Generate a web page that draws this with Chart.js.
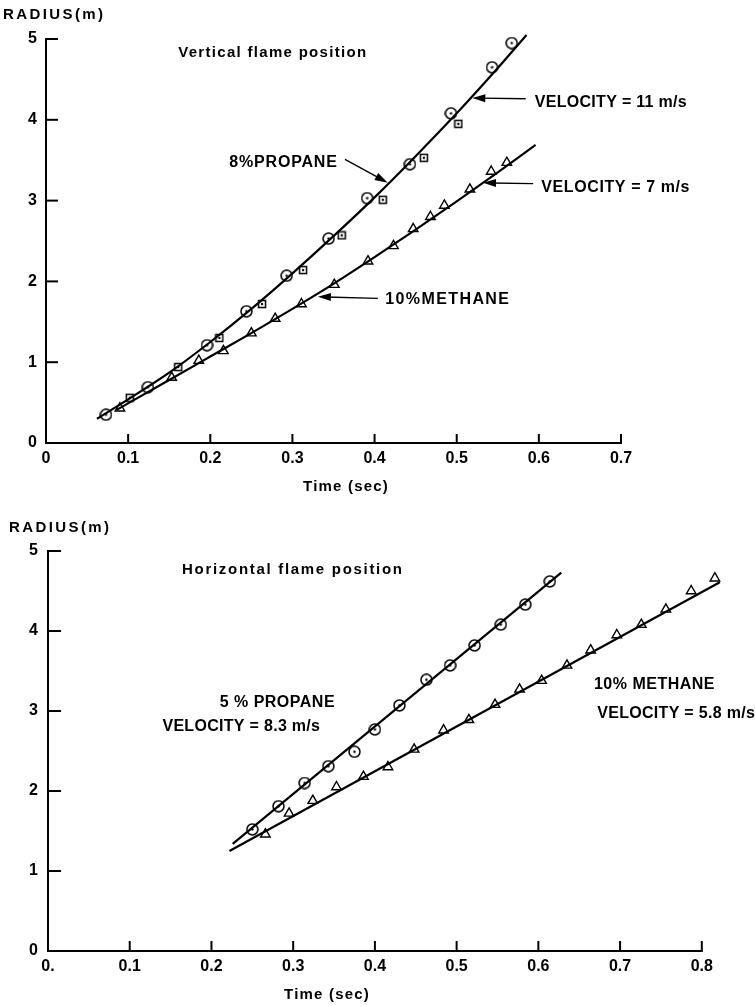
<!DOCTYPE html>
<html>
<head>
<meta charset="utf-8">
<script src="https://cdn.jsdelivr.net/npm/chart.js@4.4.1/dist/chart.umd.min.js"></script>
<style>
  body { margin: 0; background: #fff; }
  .box { position: absolute; left: 0; }
</style>
</head>
<body>
<div class="box" style="top:0"><canvas id="vertChart" width="755" height="500"></canvas></div>
<div class="box" style="top:500px"><canvas id="horzChart" width="755" height="506"></canvas></div>
<script>
// ---- vertical flame position (top) ----
const vPropaneCircT = [0.073, 0.124, 0.196, 0.244, 0.293, 0.344, 0.391, 0.443, 0.493, 0.543, 0.567];
const vPropaneCircR = [0.35, 0.69, 1.21, 1.63, 2.07, 2.53, 3.03, 3.45, 4.08, 4.65, 4.95];
const vPropaneSqT = [0.102, 0.161, 0.211, 0.263, 0.313, 0.360, 0.410, 0.460, 0.502];
const vPropaneSqR = [0.56, 0.94, 1.30, 1.72, 2.14, 2.57, 3.01, 3.53, 3.95];
const vMethaneT = [0.090, 0.153, 0.186, 0.216, 0.250, 0.279, 0.311, 0.351, 0.392, 0.423, 0.447, 0.468, 0.485, 0.516, 0.542, 0.561];
const vMethaneR = [0.43, 0.81, 1.02, 1.14, 1.36, 1.54, 1.72, 1.96, 2.25, 2.44, 2.65, 2.80, 2.94, 3.14, 3.36, 3.47];
// fitted curves as drawn on the figure
const vPropaneFitT = [0.062, 0.10, 0.15, 0.20, 0.25, 0.30, 0.35, 0.40, 0.45, 0.50, 0.55, 0.585];
const vPropaneFitR = [0.30, 0.54, 0.87, 1.25, 1.66, 2.10, 2.56, 3.04, 3.55, 4.08, 4.64, 5.05];
const vMethaneFitT = [0.086, 0.15, 0.20, 0.25, 0.30, 0.35, 0.40, 0.45, 0.50, 0.55, 0.596];
const vMethaneFitR = [0.41, 0.78, 1.07, 1.36, 1.66, 1.97, 2.30, 2.64, 2.99, 3.35, 3.69];
const vTimeTicks = [0, 0.1, 0.2, 0.3, 0.4, 0.5, 0.6, 0.7];

// ---- horizontal flame position (bottom) ----
const hPropaneT = [0.250, 0.282, 0.314, 0.343, 0.375, 0.400, 0.430, 0.463, 0.492, 0.522, 0.554, 0.584, 0.614];
const hPropaneR = [1.52, 1.81, 2.10, 2.31, 2.49, 2.77, 3.07, 3.39, 3.57, 3.82, 4.08, 4.33, 4.62];
const hMethaneT = [0.266, 0.295, 0.324, 0.353, 0.386, 0.416, 0.448, 0.484, 0.515, 0.547, 0.577, 0.604, 0.635, 0.664, 0.696, 0.726, 0.756, 0.787, 0.816];
const hMethaneR = [1.46, 1.72, 1.88, 2.05, 2.18, 2.30, 2.52, 2.76, 2.89, 3.08, 3.27, 3.38, 3.57, 3.76, 3.95, 4.08, 4.27, 4.50, 4.66];
const hPropaneFitT = [0.226, 0.628];
const hPropaneFitR = [1.34, 4.73];
const hMethaneFitT = [0.222, 0.822];
const hMethaneFitR = [1.25, 4.61];
const hTimeTicks = [0, 0.1, 0.2, 0.3, 0.4, 0.5, 0.6, 0.7, 0.8];

const radiusTicks = [0, 1, 2, 3, 4, 5];

const FONT = 'Liberation Sans';

function zip(xs, ys) {
  return xs.map((x, i) => ({ x: x, y: ys[i] }));
}

// marker images: circle with centre dot, square with centre dot
function markerImg(kind, size) {
  const c = document.createElement('canvas');
  c.width = c.height = size;
  const g = c.getContext('2d');
  const m = size / 2;
  g.strokeStyle = '#000';
  g.lineWidth = 1.5;
  g.beginPath();
  if (kind === 'circle') g.arc(m, m, m - 1, 0, Math.PI * 2);
  else g.rect(1.5, 1.5, size - 3, size - 3);
  g.stroke();
  g.fillStyle = '#000';
  g.beginPath();
  g.arc(m, m, 1.2, 0, Math.PI * 2);
  g.fill();
  return c;
}

function curve(xs, ys) {
  return {
    data: zip(xs, ys), showLine: true, pointRadius: 0, borderColor: '#000',
    borderWidth: 2.2, cubicInterpolationMode: 'monotone', clip: false
  };
}
function markers(xs, ys, style, r) {
  return {
    data: zip(xs, ys), showLine: false, pointStyle: style, pointRadius: r,
    borderColor: '#000', backgroundColor: 'rgba(255,255,255,0)', borderWidth: 1.4, clip: false
  };
}

// axis line, inward ticks, annotation text and arrows
function makeInk(notes) {
  return {
    id: 'ink',
    afterDraw(chart) {
      const ctx = chart.ctx, a = chart.chartArea, sx = chart.scales.x, sy = chart.scales.y;
      ctx.save();
      ctx.strokeStyle = '#000';
      ctx.fillStyle = '#000';
      ctx.lineWidth = 2;
      ctx.beginPath();
      ctx.moveTo(a.left - 1, a.bottom);
      ctx.lineTo(sx.getPixelForValue(notes.xEnd) + 1, a.bottom);
      ctx.stroke();
      sx.ticks.forEach(t => {
        if (t.value === 0) return;
        const p = sx.getPixelForValue(t.value);
        ctx.beginPath(); ctx.moveTo(p, a.bottom); ctx.lineTo(p, a.bottom - notes.tickX); ctx.stroke();
      });
      sy.ticks.forEach(t => {
        if (t.value === 0) return;
        const p = sy.getPixelForValue(t.value);
        ctx.beginPath(); ctx.moveTo(a.left, p); ctx.lineTo(a.left + notes.tickY, p); ctx.stroke();
      });
      ctx.lineWidth = 1.4;
      notes.arrows.forEach(([x1, y1, x2, y2]) => {
        const ax = sx.getPixelForValue(x1), ay = sy.getPixelForValue(y1);
        const bx = sx.getPixelForValue(x2), by = sy.getPixelForValue(y2);
        const ang = Math.atan2(by - ay, bx - ax);
        ctx.beginPath(); ctx.moveTo(ax, ay); ctx.lineTo(bx - 8 * Math.cos(ang), by - 8 * Math.sin(ang)); ctx.stroke();
        ctx.beginPath();
        ctx.moveTo(bx, by);
        ctx.lineTo(bx - 13 * Math.cos(ang) + 4 * Math.sin(ang), by - 13 * Math.sin(ang) - 4 * Math.cos(ang));
        ctx.lineTo(bx - 13 * Math.cos(ang) - 4 * Math.sin(ang), by - 13 * Math.sin(ang) + 4 * Math.cos(ang));
        ctx.closePath(); ctx.fill();
      });
      ctx.textBaseline = 'middle';
      notes.texts.forEach(n => {
        ctx.font = n.font;
        ctx.textAlign = n.align || 'left';
        ctx.letterSpacing = n.spacing || '0px';
        const px = n.px !== undefined ? n.px : sx.getPixelForValue(n.x);
        const py = n.py !== undefined ? n.py : sy.getPixelForValue(n.y);
        ctx.fillText(n.text, px, py);
      });
      ctx.restore();
    }
  };
}

// limits are set after the data pass so that no point gets culled at the edges
function axisOpts(lo, hi, tickVals, label, fit, tickPad, showBorder) {
  return {
    type: 'linear',
    bounds: 'data',
    afterDataLimits: s => { s.min = lo; s.max = hi; },
    afterBuildTicks: s => { s.ticks = tickVals.map(v => ({ value: v })); },
    ticks: {
      autoSkip: false, maxRotation: 0, padding: tickPad, color: '#000',
      font: { family: FONT, weight: 'bold', size: 16 },
      callback: label
    },
    grid: { drawOnChartArea: false, drawTicks: false },
    border: { display: showBorder, width: 2, color: '#000' },
    afterFit: fit
  };
}

const circ = markerImg('circle', 13);
const sq = markerImg('square', 10);

const titleFont = 'bold 15px "' + FONT + '"';
const noteFont = 'bold 16px "' + FONT + '"';

new Chart(document.getElementById('vertChart'), {
  type: 'scatter',
  data: {
    datasets: [
      curve(vPropaneFitT, vPropaneFitR),
      curve(vMethaneFitT, vMethaneFitR),
      markers(vPropaneCircT, vPropaneCircR, circ, 6),
      markers(vPropaneSqT, vPropaneSqR, sq, 5),
      markers(vMethaneT, vMethaneR, 'triangle', 5.5)
    ]
  },
  options: {
    responsive: false, animation: false,
    layout: { padding: { left: 0, right: 134, top: 39, bottom: 0 } },
    plugins: { legend: { display: false }, tooltip: { enabled: false } },
    scales: {
      x: axisOpts(0, 0.7, vTimeTicks, v => v === 0 ? '0' : v.toFixed(1), s => { s.height = 57; }, 6, false),
      y: axisOpts(0, 5, radiusTicks, v => String(v), s => { s.width = 46; }, 9, true)
    }
  },
  plugins: [makeInk({
    xEnd: 0.7, tickX: 9, tickY: 12,
    arrows: [
      [0.364, 3.51, 0.416, 3.22],
      [0.584, 4.26, 0.519, 4.27],
      [0.593, 3.21, 0.532, 3.22],
      [0.404, 1.79, 0.331, 1.81]
    ],
    texts: [
      { text: 'RADIUS(m)', px: 3, py: 15, font: titleFont, spacing: '2.4px' },
      { text: 'Vertical flame position', x: 0.161, y: 4.83, font: titleFont, spacing: '1.3px' },
      { text: '8%PROPANE', x: 0.355, y: 3.47, font: noteFont, align: 'right', spacing: '0.8px' },
      { text: 'VELOCITY = 11 m/s', x: 0.595, y: 4.21, font: noteFont, spacing: '0.3px' },
      { text: 'VELOCITY = 7 m/s', x: 0.603, y: 3.16, font: noteFont, spacing: '0.6px' },
      { text: '10%METHANE', x: 0.413, y: 1.77, font: noteFont, spacing: '1.4px' },
      { text: 'Time (sec)', px: 346, py: 487, font: titleFont, spacing: '1.2px', align: 'center' }
    ]
  })]
});

new Chart(document.getElementById('horzChart'), {
  type: 'scatter',
  data: {
    datasets: [
      curve(hPropaneFitT, hPropaneFitR),
      curve(hMethaneFitT, hMethaneFitR),
      markers(hPropaneT, hPropaneR, circ, 6),
      markers(hMethaneT, hMethaneR, 'triangle', 5.5)
    ]
  },
  options: {
    responsive: false, animation: false,
    // plot runs a little past 0.8 so the last triangle is kept; the axis line stops at 0.8
    layout: { padding: { left: 0, right: 20.5, top: 51, bottom: 0 } },
    plugins: { legend: { display: false }, tooltip: { enabled: false } },
    scales: {
      x: axisOpts(0, 0.84, hTimeTicks, v => v === 0 ? '0.' : v.toFixed(1), s => { s.height = 55; }, 6, false),
      y: axisOpts(0, 5, radiusTicks, v => String(v), s => { s.width = 48; }, 10, true)
    }
  },
  plugins: [makeInk({
    xEnd: 0.8, tickX: 10, tickY: 13,
    arrows: [],
    texts: [
      { text: 'RADIUS(m)', px: 9, py: 28, font: titleFont, spacing: '2.4px' },
      { text: 'Horizontal flame position', x: 0.164, y: 4.77, font: titleFont, spacing: '1.7px' },
      { text: '5 % PROPANE', x: 0.210, y: 3.11, font: noteFont, spacing: '0.5px' },
      { text: 'VELOCITY = 8.3 m/s', x: 0.140, y: 2.80, font: noteFont, spacing: '0.3px' },
      { text: '10% METHANE', x: 0.668, y: 3.33, font: noteFont, spacing: '0.5px' },
      { text: 'VELOCITY = 5.8 m/s', x: 0.672, y: 2.97, font: noteFont, spacing: '0.3px' },
      { text: 'Time (sec)', px: 327, py: 495, font: titleFont, spacing: '1.2px', align: 'center' }
    ]
  })]
});
</script>
</body>
</html>
